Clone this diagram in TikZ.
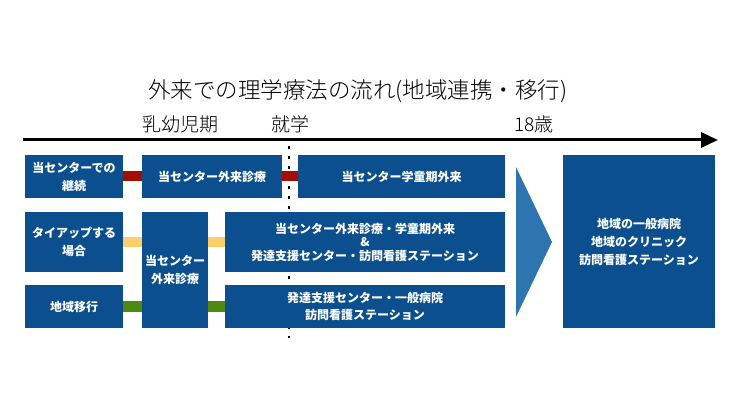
\documentclass[tikz,border=0pt]{standalone}
\usepackage{fontspec}
\usepackage{xcolor}
\usetikzlibrary{positioning, arrows.meta}
\newfontfamily\jp{Noto Sans CJK JP}
\newfontfamily\jplight{Noto Sans CJK JP Light}
\definecolor{boxblue}{HTML}{0B4F8E}
\definecolor{chevblue}{HTML}{2E75B0}
\definecolor{linkred}{HTML}{A50D00}
\definecolor{linkyellow}{HTML}{FCCF6A}
\definecolor{linkgreen}{HTML}{4F8A10}

\begin{document}
\begin{tikzpicture}[
  x=1pt, y=-1pt,
  >=Triangle,
  box/.style={fill=boxblue, text=white, align=center, inner sep=0pt, font=\jp\bfseries\fontsize{12}{18}\selectfont},
  period/.style={font=\jplight\fontsize{19}{22}\selectfont, text=black},
  link/.style={line width=10pt},
  timeline/.style={line width=3pt, -{Triangle[length=17pt, width=15pt]}},
]
\useasboundingbox (0,0) rectangle (740,417);

% ================= タイトル・時間軸 =================
\node[font=\jplight\fontsize{22.5}{26}\selectfont] (title) at (358,91) {外来での理学療法の流れ(地域連携・移行)};

\coordinate (tl-start) at (23,140);
\coordinate (tl-end) at (718,140);
\draw[timeline] (tl-start) -- (tl-end);

\node[period] (infant) at (180,124) {乳幼児期};
\node[period] (entry) at (290,124) {就学};
\node[period] (adult) at (534,124) {18歳};

% 就学の区切り（点線）
\coordinate (sep-top) at (289,146);
\coordinate (sep-bot) at (289,338);
\draw[line width=2.6pt, dash pattern=on 2.6pt off 7.4pt] (sep-top) -- (sep-bot);

% ================= ボックス =================
% 1段目
\node[box, minimum width=98pt, minimum height=43pt] (cont) at (74,176.5) {当センターでの\\継続};
\node[box, minimum width=140pt, minimum height=43pt] (clinicA) at (212,176.5) {当センター外来診療};
\node[box, minimum width=207pt, minimum height=43pt] (school) at (401.5,176.5) {当センター学童期外来};

% 2段目
\node[box, minimum width=98pt, minimum height=60pt] (tieup) at (74,242) {タイアップする\\場合};
\node[box, minimum width=66pt, minimum height=116pt] (clinicB) at (175,270) {当センター\\外来診療};
\node[box, minimum width=280pt, minimum height=60pt, font=\jp\bfseries\fontsize{12}{13.5}\selectfont] (mixed) at (365,242) {当センター外来診療・学童期外来\\\&\\発達支援センター・訪問看護ステーション};

% 3段目
\node[box, minimum width=98pt, minimum height=43pt] (transfer) at (74,306.5) {地域移行};
\node[box, minimum width=280pt, minimum height=43pt, font=\jp\bfseries\fontsize{12}{17}\selectfont] (support) at (365,306.5) {発達支援センター・一般病院\\訪問看護ステーション};

% 18歳以降
\node[box, minimum width=152pt, minimum height=173pt] (regional) at (639,241.5) {地域の一般病院\\地域のクリニック\\訪問看護ステーション};

% ================= つなぎ =================
\draw[link, linkred] (cont.east) -- (clinicA.west);
\draw[link, linkred] (clinicA.east) -- (school.west);
\draw[link, linkyellow] (tieup.east) -- (tieup.east -| clinicB.west);
\draw[link, linkyellow] (mixed.west -| clinicB.east) -- (mixed.west);
\draw[link, linkgreen] (transfer.east) -- (transfer.east -| clinicB.west);
\draw[link, linkgreen] (support.west -| clinicB.east) -- (support.west);

% 大きな矢印
\fill[chevblue] (516,167) -- (552,242) -- (516,317) -- cycle;

\end{tikzpicture}
\end{document}
